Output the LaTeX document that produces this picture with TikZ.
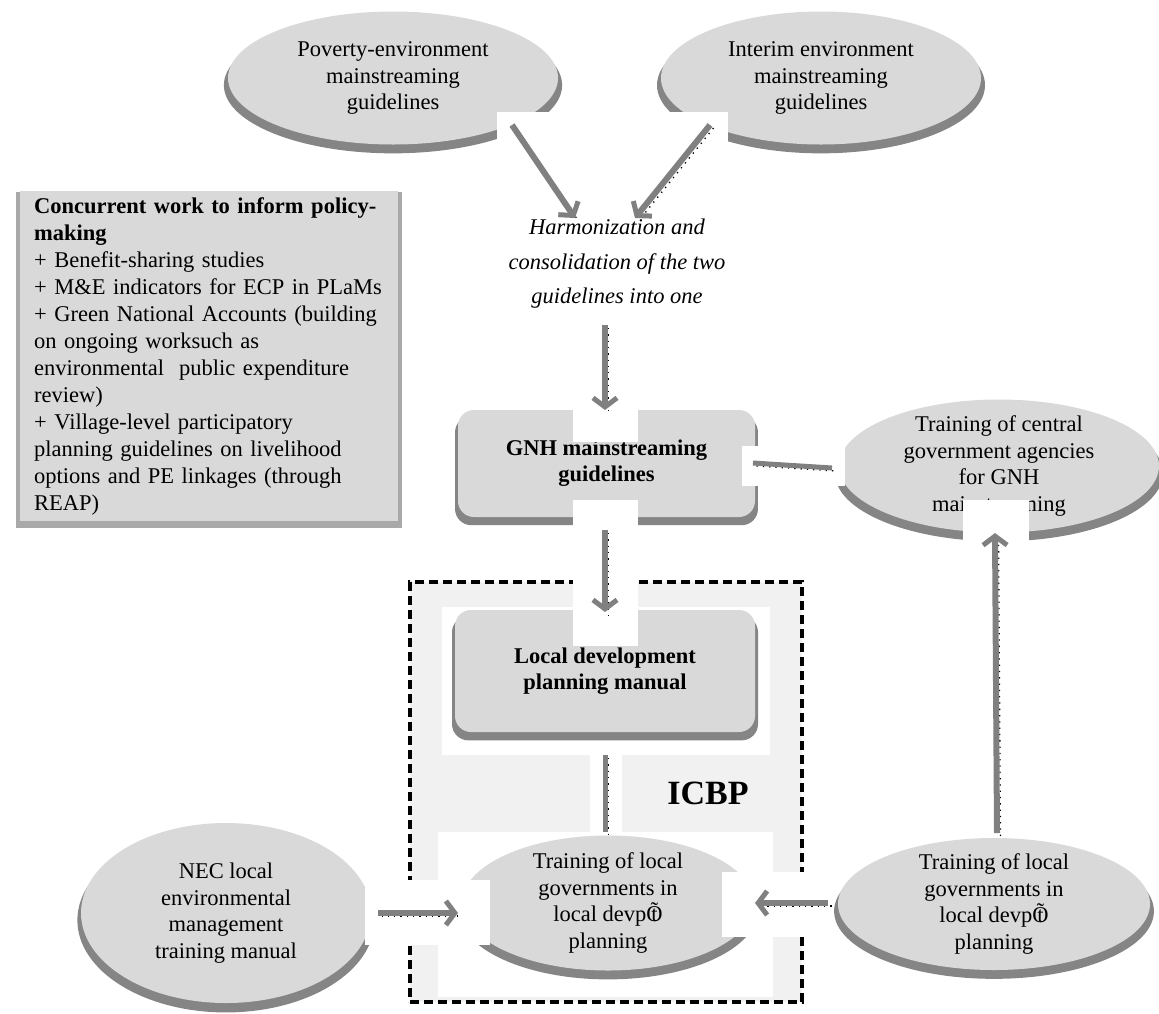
\documentclass[tikz,border=0pt]{standalone}
\usepackage{fontspec}
\setmainfont{Liberation Serif}
\usetikzlibrary{shapes.geometric,shadows,arrows.meta}

\definecolor{fillgray}{gray}{0.85}
\definecolor{shadegray}{gray}{0.52}
\definecolor{linkgray}{gray}{0.5}
\definecolor{icbpgray}{gray}{0.945}

\newcommand{\devpt}{devp\ooalign{\~{O}\cr\hidewidth t\hidewidth\cr}}

\tikzset{
  oval/.style={ellipse, fill=fillgray, align=center, inner xsep=0pt, inner ysep=-10pt,
    font=\fontsize{22.5}{26.5}\selectfont,
    general shadow={fill=shadegray, shadow yshift=-7pt, shadow scale=1.025}},
  guide/.style={rectangle, rounded corners=16pt, fill=fillgray, align=center,
    font=\fontsize{22.5}{26}\selectfont\bfseries,
    general shadow={fill=shadegray, shadow yshift=-7pt, shadow scale=1.02}},
  concur/.style={rectangle, fill=fillgray, anchor=north west, align=left,
    text width=350pt, inner xsep=14pt, inner ysep=6pt,
    font=\fontsize{22.5}{27}\selectfont,
    general shadow={fill=shadegray!70, shadow yshift=-4pt, shadow scale=1.02}},
  icbpbox/.style={rectangle, fill=icbpgray, draw=black, line width=3.4pt,
    dash pattern=on 9pt off 5pt, inner sep=0pt},
  patch/.style={fill=white},
  dots/.style={preaction={draw=black, line width=1.3pt, dash pattern=on 1.3pt off 5pt,
    arrows=-, transform canvas={xshift=3.5pt, yshift=-3pt}}},
  flow/.style={dots, draw=linkgray, line width=6pt,
    -{Straight Barb[length=9pt, width=24pt, line width=5pt]}},
  link/.style={dots, draw=linkgray, line width=5pt},
}

\begin{document}
\begin{tikzpicture}[x=1pt, y=-1pt]
  \useasboundingbox (0,0) rectangle (1159,1013);

  % ICBP frame
  \node[icbpbox, minimum width=392pt, minimum height=420pt] (icbp) at (606,792) {};
  \fill[white] (442,607) rectangle (770,755);
  \fill[white] (438,832) rectangle (773,997);

  % guidelines
  \node[oval, minimum width=330pt, minimum height=133pt] (pov) at (393,78)
    {Poverty-environment\\mainstreaming\\guidelines};
  \node[oval, minimum width=320pt, minimum height=133pt] (interim) at (821,78)
    {Interim environment\\mainstreaming\\guidelines};
  \node[guide, minimum width=297pt, minimum height=107pt] (gnh) at (606.5,463.5)
    {GNH mainstreaming\\guidelines};
  \node[oval, minimum width=320pt, minimum height=133pt] (central) at (999,466)
    {Training of central\\government agencies\\for GNH\\mainstreaming};

  \node[concur] (concur) at (20,191)
    {\textbf{Concurrent work to inform policy-}\\
     \textbf{making}\\
     + Benefit-sharing studies\\
     + M\&E indicators for ECP in PLaMs\\
     + Green National Accounts (building\\
     on ongoing worksuch as\\
     environmental\ \ public expenditure\\
     review)\\
     + Village-level participatory\\
     planning guidelines on livelihood\\
     options and PE linkages (through\\
     REAP)};

  % local level
  \node[guide, minimum width=300pt, minimum height=122pt] (ldp) at (605,671)
    {Local development\\planning manual};
  \node[font=\fontsize{34}{34}\selectfont\bfseries] (icbplabel) at (708,793) {ICBP};
  \node[oval, minimum width=290pt, minimum height=180pt] (nec) at (226,913)
    {NEC local\\environmental\\management\\training manual};
  \node[oval, minimum width=292pt, minimum height=135pt] (tlgin) at (608,903)
    {Training of local\\governments in\\local \devpt\\planning};
  \node[oval, minimum width=312pt, minimum height=132pt] (tlgout) at (994,904)
    {Training of local\\governments in\\local \devpt\\planning};

  % arrow frames
  \fill[patch] (497,112) rectangle (590,222);
  \fill[patch] (620,112) rectangle (728,222);
  \fill[patch] (573,315) rectangle (638,442);
  \fill[patch] (573,500) rectangle (638,646);
  \fill[patch] (742,446) rectangle (845,486);
  \fill[patch] (590,755) rectangle (622,832);
  \fill[patch] (365,880) rectangle (490,945);
  \fill[patch] (722,872) rectangle (828,937);
  \fill[patch] (963,500) rectangle (1029,835);

  \node[font=\fontsize{22.5}{34.5}\selectfont\itshape, align=center] (harm) at (617,264)
    {Harmonization and\\consolidation of the two\\guidelines into one};

  % connectors
  \coordinate (pov-out) at (512,125);
  \coordinate (interim-out) at (710,125);
  \coordinate (harm-inl) at (575,218);
  \coordinate (harm-inr) at (635,218);
  \coordinate (harm-out) at (605,325);
  \coordinate (gnh-in) at (605,410);
  \coordinate (gnh-out) at (605,530);
  \coordinate (gnh-side) at (753,463);
  \coordinate (central-side) at (832,468);
  \coordinate (central-in) at (995,533);
  \coordinate (ldp-in) at (605,612);
  \coordinate (ldp-out) at (605,755);
  \coordinate (tlgin-top) at (605,832);
  \coordinate (nec-out) at (378,913);
  \coordinate (tlgin-l) at (458,913);
  \coordinate (tlgout-out) at (828,903);
  \coordinate (tlgin-r) at (755,903);
  \coordinate (tlgout-top) at (997,833);

  \draw[flow] (pov-out) -- (harm-inl);
  \draw[flow] (interim-out) -- (harm-inr);
  \draw[flow] (harm-out) -- (gnh-in);
  \draw[link] (gnh-side) -- (central-side);
  \draw[flow] (gnh-out) -- (ldp-in);
  \draw[link] (ldp-out) -- (tlgin-top);
  \draw[flow] (nec-out) -- (tlgin-l);
  \draw[flow] (tlgout-out) -- (tlgin-r);
  \draw[flow] (tlgout-top) -- (central-in);
\end{tikzpicture}
\end{document}
